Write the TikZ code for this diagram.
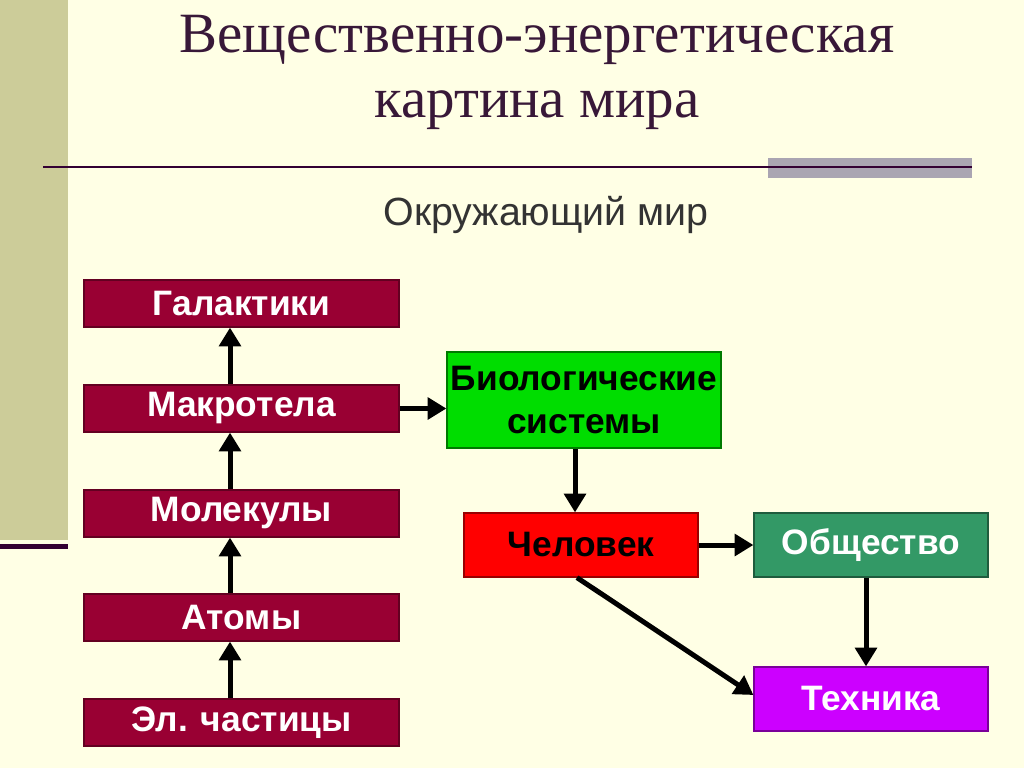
\documentclass[tikz,border=0pt]{standalone}
\usepackage{fontspec}
\setmainfont{Liberation Sans}
\newfontfamily\titlefont{Liberation Serif}
\usetikzlibrary{arrows.meta}
\definecolor{bg}{RGB}{255,255,229}
\definecolor{strip}{RGB}{204,204,153}
\definecolor{darkpurple}{RGB}{51,0,51}
\definecolor{titlecol}{RGB}{56,24,56}
\definecolor{barcol}{RGB}{170,165,178}
\definecolor{maroon}{RGB}{153,0,51}
\definecolor{biocol}{RGB}{0,221,0}
\definecolor{soccol}{RGB}{51,153,102}
\definecolor{techcol}{RGB}{204,0,255}
\definecolor{subcol}{RGB}{51,51,51}
\begin{document}
\begin{tikzpicture}[x=0.75pt,y=-0.75pt,
  basebox/.style={inner sep=0pt, line width=0.9pt, align=center,
    font=\bfseries\fontsize{26.5}{32}\selectfont},
  mbox/.style={basebox, fill=maroon, draw=maroon!65!black, text=white,
    minimum width=236.25pt, minimum height=35.25pt},
  wbox/.style={basebox, minimum width=175.5pt, minimum height=48pt},
  arr/.style={line width=3.75pt, -{Triangle[width=16pt,length=14pt]}}]
\useasboundingbox (0,0) rectangle (1024,768);
\fill[bg] (0,0) rectangle (1024,768);
\fill[strip] (0,0) rectangle (68,540);
\fill[darkpurple] (0,544) rectangle (68,549);
\fill[barcol] (768,158) rectangle (972,178);
\draw[darkpurple, line width=1.6pt] (43,167) -- (972,167);
% title
\node[anchor=base, text=titlecol, font=\titlefont\fontsize{42.7}{48}\selectfont] (t1) at (537,52) {Вещественно-энергетическая};
\node[anchor=base, text=titlecol, font=\titlefont\fontsize{42.7}{48}\selectfont] (t2) at (537,117) {картина мира};
\node[anchor=base, text=subcol, font=\fontsize{29.5}{34}\selectfont] (sub) at (546,225) {Окружающий мир};
% left column
\node[mbox] (gal) at (241.5,303.5) {Галактики};
\node[mbox] (mak) at (241.5,408.5) {Макротела};
\node[mbox] (mol) at (241.5,513.5) {Молекулы};
\node[mbox] (atom) at (241.5,617.5) {Атомы};
\node[mbox] (el) at (241.5,722.5) {Эл. частицы};
% right part
\node[basebox, fill=biocol, draw=biocol!55!black, text=black,
  minimum width=205.5pt, minimum height=72pt] (bio) at (584,400) {Биологические\\системы};
\node[wbox, fill=red, draw=red!60!black, text=black] (chel) at (581,545) {Человек};
\node[wbox, fill=soccol, draw=soccol!60!black, text=white] (soc) at (871,545) {Общество};
\node[wbox, fill=techcol, draw=techcol!60!black, text=white] (tech) at (871,699) {Техника};
% arrows
\coordinate (colx) at (230,0);
\coordinate (colb) at (575,0);
\coordinate (cols) at (866,0);
\draw[arr] (el.north -| colx) -- (atom.south -| colx);
\draw[arr] (atom.north -| colx) -- (mol.south -| colx);
\draw[arr] (mol.north -| colx) -- (mak.south -| colx);
\draw[arr] (mak.north -| colx) -- (gal.south -| colx);
\draw[arr] (mak.east) -- (mak.east -| bio.west);
\draw[arr] (bio.south -| colb) -- (chel.north -| colb);
\draw[arr] (chel.east) -- (soc.west);
\draw[arr] (soc.south -| cols) -- (tech.north -| cols);
\draw[arr] ([xshift=-3pt]chel.south) -- ([yshift=3pt]tech.west);
\end{tikzpicture}
\end{document}
